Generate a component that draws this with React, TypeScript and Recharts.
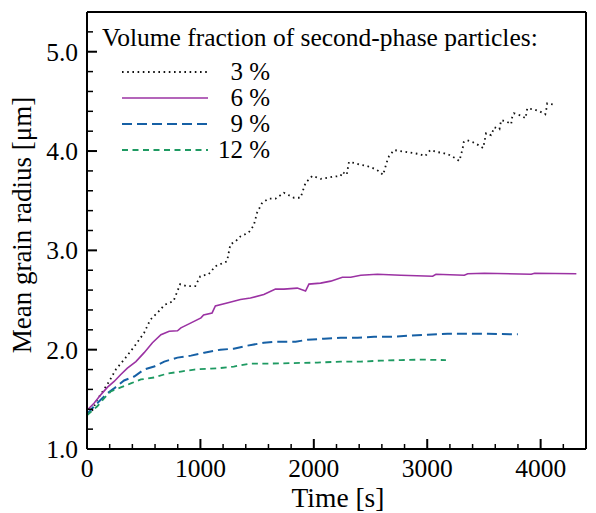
import React from 'react';
import { LineChart, Line, XAxis, YAxis, ReferenceLine } from 'recharts';

// ---- data (time [s], mean grain radius [µm]) ----
const time3 = [0, 47, 91, 150, 195, 254, 327, 416, 504, 557, 592, 645, 681, 763, 822, 881, 955, 999, 1073, 1132, 1235, 1264, 1309, 1353, 1426, 1470, 1500, 1545, 1603, 1662, 1736, 1824, 1883, 1927, 1987, 2060, 2164, 2237, 2252, 2290, 2310, 2355, 2414, 2467, 2517, 2570, 2611, 2626, 2644, 2664, 2708, 2761, 2821, 2871, 2929, 2982, 3027, 3086, 3141, 3195, 3245, 3283, 3298, 3313, 3322, 3351, 3401, 3451, 3492, 3504, 3519, 3563, 3592, 3637, 3652, 3696, 3740, 3749, 3764, 3820, 3867, 3882, 3937, 3990, 4041, 4050, 4058, 4109];
const radius3 = [1.37, 1.39, 1.5, 1.6, 1.68, 1.8, 1.9, 2.03, 2.17, 2.3, 2.34, 2.4, 2.45, 2.49, 2.66, 2.64, 2.64, 2.74, 2.76, 2.84, 2.89, 3.06, 3.09, 3.14, 3.18, 3.25, 3.38, 3.48, 3.52, 3.52, 3.58, 3.53, 3.53, 3.68, 3.75, 3.72, 3.74, 3.75, 3.79, 3.76, 3.89, 3.88, 3.86, 3.85, 3.83, 3.8, 3.76, 3.82, 3.89, 3.95, 4.01, 4.0, 3.99, 3.98, 3.97, 3.95, 4.01, 3.99, 3.98, 3.96, 3.93, 3.9, 3.96, 4.03, 4.09, 4.11, 4.09, 4.06, 4.03, 4.09, 4.18, 4.16, 4.24, 4.22, 4.31, 4.3, 4.27, 4.34, 4.38, 4.36, 4.33, 4.43, 4.42, 4.4, 4.37, 4.42, 4.48, 4.47];

const time6 = [0, 62, 121, 179, 239, 298, 356, 431, 504, 577, 652, 725, 798, 828, 917, 1005, 1028, 1103, 1132, 1235, 1353, 1441, 1559, 1662, 1736, 1854, 1927, 1957, 2060, 2149, 2252, 2325, 2414, 2561, 2767, 3048, 3077, 3327, 3357, 3504, 3917, 3947, 4315];
const radius6 = [1.39, 1.46, 1.545, 1.62, 1.68, 1.75, 1.815, 1.88, 1.97, 2.07, 2.15, 2.185, 2.19, 2.22, 2.27, 2.32, 2.35, 2.37, 2.44, 2.47, 2.505, 2.52, 2.555, 2.61, 2.61, 2.62, 2.59, 2.66, 2.67, 2.69, 2.73, 2.73, 2.75, 2.76, 2.75, 2.74, 2.76, 2.75, 2.765, 2.77, 2.76, 2.77, 2.765];

const time9 = [0, 62, 121, 179, 239, 327, 416, 504, 592, 681, 798, 917, 1034, 1176, 1294, 1412, 1559, 1677, 1839, 1943, 2089, 2237, 2385, 2531, 2679, 2827, 3003, 3180, 3357, 3534, 3799];
const radius9 = [1.35, 1.43, 1.495, 1.56, 1.61, 1.69, 1.73, 1.8, 1.83, 1.88, 1.92, 1.94, 1.97, 2.0, 2.01, 2.04, 2.07, 2.08, 2.08, 2.1, 2.11, 2.12, 2.12, 2.13, 2.13, 2.14, 2.15, 2.16, 2.16, 2.16, 2.155];

const time12 = [0, 91, 150, 210, 298, 386, 475, 592, 710, 828, 946, 1094, 1176, 1294, 1441, 1589, 1824, 2031, 2237, 2414, 2591, 2767, 2944, 3165];
const radius12 = [1.34, 1.43, 1.51, 1.58, 1.62, 1.66, 1.7, 1.72, 1.76, 1.78, 1.8, 1.81, 1.815, 1.83, 1.86, 1.86, 1.865, 1.87, 1.88, 1.88, 1.89, 1.895, 1.9, 1.895];

const seriesLabels = ['3 %', '6 %', '9 %', '12 %'];
const xTicks = [0, 200, 400, 600, 800, 1000, 1200, 1400, 1600, 1800, 2000, 2200, 2400, 2600, 2800, 3000, 3200, 3400, 3600, 3800, 4000, 4200, 4400];
const yTicks = [1.0, 1.2, 1.4, 1.6, 1.8, 2.0, 2.2, 2.4, 2.6, 2.8, 3.0, 3.2, 3.4, 3.6, 3.8, 4.0, 4.2, 4.4, 4.6, 4.8, 5.0, 5.2, 5.4];
const legendTitle = 'Volume fraction of second-phase particles:';

const zip = (ts: number[], rs: number[]) => ts.map((t, i) => ({ t, r: rs[i] }));

const series = [
  { key: 's3', data: zip(time3, radius3), color: '#111111', dash: '1.6 3.6', width: 1.8 },
  { key: 's6', data: zip(time6, radius6), color: '#9B32A3', dash: undefined, width: 1.6 },
  { key: 's9', data: zip(time9, radius9), color: '#1660A5', dash: '10 5', width: 2 },
  { key: 's12', data: zip(time12, radius12), color: '#1E9A62', dash: '6 4.5', width: 1.8 },
];

const FONT = '"Liberation Serif", "Times New Roman", serif';

const XTick = (props: any) => {
  const { x, y, payload } = props;
  const v = payload.value as number;
  const major = Math.abs(v % 1000) < 1e-6;
  return (
    <g>
      <line x1={x} y1={y} x2={x} y2={y - (major ? 10 : 5)} stroke="#000" strokeWidth={major ? 2 : 1.5} />
      {major && (
        <text x={x} y={y + 28} textAnchor="middle" fontFamily={FONT} fontSize={25.5} fill="#000">
          {v}
        </text>
      )}
    </g>
  );
};

const YTick = (props: any) => {
  const { x, y, payload } = props;
  const v = payload.value as number;
  const major = Math.abs(v - Math.round(v)) < 1e-6;
  return (
    <g>
      <line x1={x} y1={y} x2={x + (major ? 10 : 6)} y2={y} stroke="#000" strokeWidth={major ? 2 : 1.5} />
      {major && (
        <text x={x - 9} y={y + 9} textAnchor="end" fontFamily={FONT} fontSize={25.5} fill="#000">
          {v.toFixed(1)}
        </text>
      )}
    </g>
  );
};

export default function App() {
  return (
    <div style={{ position: 'absolute', left: 0, top: 0, width: 596, height: 513, background: '#fff' }}>
      <LineChart width={596} height={513} margin={{ top: 12, right: 10, left: 0, bottom: 0 }}>
        <XAxis
          dataKey="t"
          type="number"
          domain={[0, 4400]}
          ticks={xTicks}
          interval={0}
          allowDuplicatedCategory={false}
          height={64}
          tickSize={0}
          tickMargin={0}
          tickLine={false}
          tick={<XTick />}
          axisLine={{ stroke: '#000', strokeWidth: 2 }}
          label={{
            content: () => (
              <text x={338} y={507} textAnchor="middle" fontFamily={FONT} fontSize={27.5} fill="#000">
                Time [s]
              </text>
            ),
          }}
        />
        <YAxis
          dataKey="r"
          type="number"
          domain={[1.0, 5.4]}
          ticks={yTicks}
          interval={0}
          width={87}
          tickSize={0}
          tickMargin={0}
          tickLine={false}
          tick={<YTick />}
          axisLine={{ stroke: '#000', strokeWidth: 2 }}
          label={{
            content: () => (
              <text
                x={31}
                y={225}
                transform="rotate(-90 31 225)"
                textAnchor="middle"
                fontFamily={FONT}
                fontSize={27}
                fill="#000"
              >
                Mean grain radius [μm]
              </text>
            ),
          }}
        />
        <ReferenceLine y={5.4} stroke="#000" strokeWidth={2} />
        <ReferenceLine x={4400} stroke="#000" strokeWidth={2} />
        {series.map((s) => (
          <Line
            key={s.key}
            data={s.data}
            dataKey="r"
            type="linear"
            stroke={s.color}
            strokeWidth={s.width}
            strokeDasharray={s.dash}
            dot={false}
            activeDot={false}
            isAnimationActive={false}
          />
        ))}
      </LineChart>
      <svg
        width={596}
        height={513}
        style={{ position: 'absolute', left: 0, top: 0, pointerEvents: 'none' }}
      >
        <text x={102} y={46} fontFamily={FONT} fontSize={25.5} fill="#000">
          {legendTitle}
        </text>
        {series.map((s, i) => {
          const cy = 72 + i * 26;
          return (
            <g key={s.key}>
              <line
                x1={122}
                y1={cy}
                x2={208}
                y2={cy}
                stroke={s.color}
                strokeWidth={s.width}
                strokeDasharray={s.dash}
              />
              <text x={270} y={cy + 8} textAnchor="end" fontFamily={FONT} fontSize={25} fill="#000">
                {seriesLabels[i]}
              </text>
            </g>
          );
        })}
      </svg>
    </div>
  );
}
